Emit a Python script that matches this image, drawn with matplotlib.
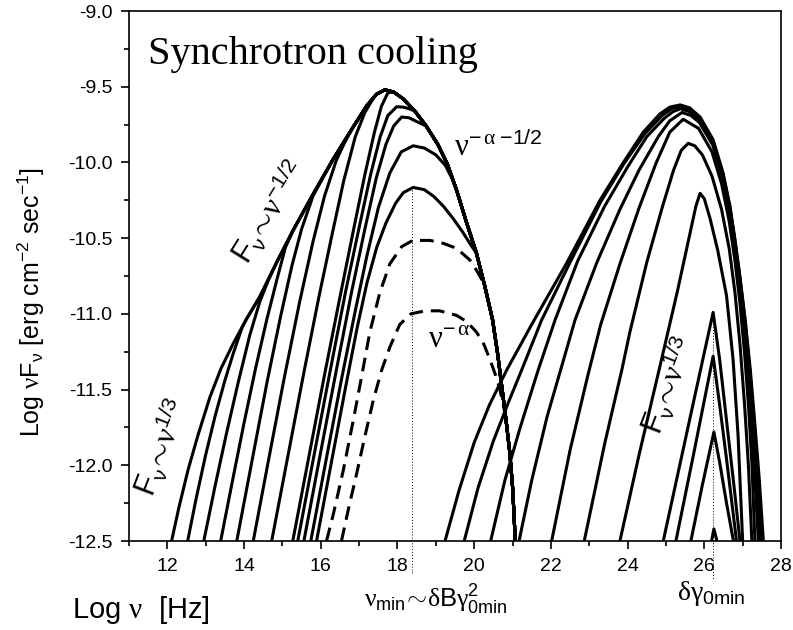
#!/usr/bin/env python3

import numpy as np
import matplotlib
matplotlib.use("Agg")
import matplotlib.pyplot as plt
from matplotlib.ticker import MultipleLocator, FormatStrFormatter

# ---- data (log nu, log nuFnu) ----
# shared envelope of the low-frequency hump
env_up_x = [13.72, 14.05, 14.41, 14.85, 15.28, 15.80, 16.32, 16.85, 17.20, 17.45, 17.67]
env_up_y = [-11.195, -11.04, -10.887, -10.66, -10.448, -10.21, -9.98, -9.764, -9.625, -9.55, -9.52]
env_dn_x = [17.67, 17.90, 18.15, 18.45, 18.75, 19.05, 19.30, 19.55, 19.78, 20.06,
            20.28, 20.48, 20.61, 20.72, 20.83, 20.93, 21.00, 21.04, 21.07]
env_dn_y = [-9.52, -9.535, -9.58, -9.66, -9.76, -9.88, -10.01, -10.19, -10.38, -10.60,
            -10.82, -11.04, -11.26, -11.48, -11.70, -11.92, -12.14, -12.33, -12.50]

# own part of each low-frequency curve, then where it joins the envelope
c1_x = [12.11, 12.30, 12.54, 12.80, 13.11, 13.40]
c1_y = [-12.5, -12.28, -12.03, -11.80, -11.55, -11.36]
c2_x = [12.53, 12.75, 13.0, 13.25, 13.5, 13.72, 13.95]
c2_y = [-12.5, -12.22, -11.93, -11.67, -11.44, -11.26, -11.09]
c3_x = [12.95, 13.25, 13.55, 13.85, 14.15, 14.41, 14.63]
c3_y = [-12.5, -12.13, -11.78, -11.45, -11.14, -10.92, -10.78]
c4_x = [13.39, 13.7, 14.0, 14.3, 14.6, 14.85, 15.08]
c4_y = [-12.5, -12.1, -11.72, -11.36, -11.03, -10.78, -10.56]
c5_x = [13.81, 14.2, 14.6, 14.95, 15.25, 15.5, 15.8]
c5_y = [-12.5, -11.98, -11.45, -11.02, -10.68, -10.44, -10.22]
c6_x = [14.24, 14.65, 15.05, 15.45, 15.8, 16.1, 16.4, 16.62]
c6_y = [-12.5, -11.95, -11.42, -10.92, -10.52, -10.22, -9.99, -9.87]
c7_x = [14.72, 15.15, 15.55, 15.95, 16.3, 16.6, 16.9, 17.15, 17.35]
c7_y = [-12.5, -11.93, -11.4, -10.89, -10.47, -10.12, -9.83, -9.67, -9.585]
c8_x = [15.27, 15.7, 16.1, 16.5, 16.85, 17.15, 17.4, 17.58, 17.75]
c8_y = [-12.5, -11.93, -11.4, -10.89, -10.45, -10.08, -9.8, -9.63, -9.54]
c9_x = [15.40, 15.85, 16.25, 16.65, 17.0, 17.3, 17.55, 17.75, 17.98, 18.15, 18.3]
c9_y = [-12.5, -11.9, -11.37, -10.85, -10.43, -10.08, -9.83, -9.69, -9.632, -9.635, -9.645]
c10_x = [15.56, 16.0, 16.4, 16.8, 17.15, 17.45, 17.7, 17.9, 18.11, 18.3, 18.5]
c10_y = [-12.5, -11.91, -11.38, -10.86, -10.44, -10.1, -9.88, -9.76, -9.70, -9.705, -9.73]
c11_x = [15.74, 16.15, 16.55, 16.9, 17.2, 17.5, 17.8, 18.1, 18.41, 18.7, 19.0, 19.25, 19.45]
c11_y = [-12.5, -11.95, -11.42, -10.98, -10.62, -10.3, -10.07, -9.93, -9.89, -9.905, -9.95, -10.02, -10.12]
c12_x = [15.89, 16.3, 16.65, 16.95, 17.2, 17.46, 17.7, 17.95, 18.15, 18.41, 18.7, 18.95,
         19.2, 19.45, 19.7, 19.9]
c12_y = [-12.5, -11.95, -11.48, -11.09, -10.8, -10.56, -10.4, -10.27, -10.2, -10.165, -10.18, -10.225,
         -10.29, -10.37, -10.46, -10.54]
dA_x = [16.15, 16.33, 16.59, 16.85, 17.06, 17.28, 17.54, 17.80, 18.11, 18.4, 18.85, 19.2,
        19.54, 19.89, 20.08, 20.2]
dA_y = [-12.5, -12.32, -12.03, -11.70, -11.42, -11.12, -10.86, -10.67, -10.556, -10.515, -10.515, -10.535,
        -10.567, -10.645, -10.72, -10.775]
dB_x = [16.54, 16.72, 16.94, 17.15, 17.37, 17.59, 17.80, 18.06, 18.35, 18.72, 19.1, 19.54,
        19.8, 20.06, 20.25, 20.41, 20.55, 20.66, 20.76]
dB_y = [-12.5, -12.29, -12.05, -11.81, -11.57, -11.37, -11.22, -11.07, -11.0, -10.98, -10.98, -11.01,
        -11.05, -11.12, -11.2, -11.3, -11.4, -11.49, -11.6]

# high-frequency hump
r1_x = [19.24, 19.6, 20.0, 20.4, 20.85, 21.5, 22.4, 23.28, 23.89, 24.41, 24.84, 25.1, 25.37, 25.62,
        25.89, 26.23, 26.49, 26.67, 26.80, 26.93, 27.07, 27.2, 27.32, 27.43, 27.54]
r1_y = [-12.5, -12.17, -11.85, -11.6, -11.37, -11.07, -10.67, -10.25, -10.0, -9.8, -9.68, -9.635, -9.62, -9.64,
        -9.70, -9.85, -10.07, -10.29, -10.51, -10.755, -11.05, -11.37, -11.73, -12.08, -12.5]
r2_x = [19.74, 20.1, 20.5, 20.9, 21.24, 21.76, 22.5, 23.3, 23.9, 24.45, 24.9, 25.15, 25.37, 25.62,
        25.89, 26.23, 26.49, 26.67, 26.8, 26.93, 27.07, 27.19, 27.31, 27.41, 27.50]
r2_y = [-12.5, -12.15, -11.84, -11.58, -11.37, -11.04, -10.66, -10.26, -10.01, -9.81, -9.69, -9.645, -9.63, -9.65,
        -9.71, -9.86, -10.08, -10.30, -10.52, -10.765, -11.06, -11.38, -11.76, -12.1, -12.5]
r3_x = [20.43, 20.8, 21.2, 21.67, 22.11, 22.7, 23.4, 24.0, 24.5, 24.95, 25.18, 25.38, 25.62, 25.88,
        26.23, 26.49, 26.67, 26.8, 26.93, 27.06, 27.18, 27.3, 27.38, 27.46]
r3_y = [-12.5, -12.1, -11.75, -11.37, -11.04, -10.65, -10.29, -10.03, -9.83, -9.71, -9.665, -9.645, -9.665, -9.725,
        -9.875, -10.095, -10.315, -10.54, -10.79, -11.08, -11.41, -11.8, -12.1, -12.5]
r4_x = [21.17, 21.5, 21.9, 22.3, 22.63, 23.2, 23.8, 24.3, 24.8, 25.1, 25.42, 25.65, 25.87, 26.22,
        26.48, 26.66, 26.8, 26.93, 27.05, 27.16, 27.27, 27.41]
r4_y = [-12.5, -12.1, -11.68, -11.33, -11.04, -10.66, -10.31, -10.05, -9.83, -9.725, -9.67, -9.69, -9.735, -9.885,
        -10.105, -10.335, -10.575, -10.835, -11.125, -11.45, -11.85, -12.5]
r5_x = [22.02, 22.5, 22.97, 23.3, 23.8, 24.3, 24.75, 25.1, 25.45, 25.85, 26.2, 26.45, 26.65, 26.8,
        26.93, 27.05, 27.15, 27.24, 27.32]
r5_y = [-12.5, -11.9, -11.4, -11.07, -10.67, -10.3, -10.0, -9.8, -9.715, -9.775, -9.93, -10.14, -10.39, -10.65,
        -10.93, -11.26, -11.6, -11.98, -12.5]
r6_x = [22.87, 23.4, 23.85, 24.06, 24.5, 24.9, 25.2, 25.4, 25.58, 25.75, 25.95, 26.2, 26.45, 26.65,
        26.8, 26.93, 27.05, 27.15, 27.24]
r6_y = [-12.5, -11.86, -11.37, -11.12, -10.66, -10.3, -10.05, -9.92, -9.874, -9.89, -9.95, -10.09, -10.31, -10.57,
        -10.86, -11.2, -11.6, -12.0, -12.5]
r7_x = [23.80, 24.3, 24.84, 25.3, 25.6, 25.78, 25.89, 26.0, 26.15, 26.35, 26.58, 26.75, 26.88, 27.0]
r7_y = [-12.5, -11.93, -11.35, -10.85, -10.5, -10.29, -10.204, -10.24, -10.37, -10.58, -10.88, -11.3, -11.8, -12.5]
s1_x = [24.93, 25.6, 26.23, 26.4, 26.6, 26.78, 26.93]
s1_y = [-12.5, -11.72, -10.99, -11.3, -11.75, -12.15, -12.5]
s2_x = [25.26, 25.75, 26.23, 26.4, 26.6, 26.84]
s2_y = [-12.5, -11.89, -11.28, -11.6, -12.0, -12.5]
s3_x = [25.65, 25.95, 26.25, 26.4, 26.58, 26.76]
s3_y = [-12.5, -12.13, -11.78, -11.98, -12.25, -12.5]
s4_x = [26.19, 26.25, 26.33]
s4_y = [-12.5, -12.42, -12.5]

nu_min = 18.39
nu_min_peak = -10.165
gamma_min = 26.23
gamma_min_peak = -10.99


def join(own_x, own_y, env_x, env_y):
    """own points first, then the envelope beyond the last own point"""
    xs = list(own_x) + [x for x in env_x if x > own_x[-1]]
    ys = list(own_y) + [y for x, y in zip(env_x, env_y) if x > own_x[-1]]
    return xs, ys


plt.rcParams['font.family'] = ['Liberation Sans', 'DejaVu Sans']
plt.rcParams['axes.unicode_minus'] = False
plt.rcParams['mathtext.fontset'] = 'custom'
plt.rcParams['mathtext.rm'] = 'Liberation Serif'
plt.rcParams['mathtext.it'] = 'Liberation Sans:italic'
plt.rcParams['mathtext.sf'] = 'Liberation Sans'
plt.rcParams['mathtext.bf'] = 'Liberation Sans:bold'

fig = plt.figure(figsize=(7.93, 6.3), dpi=100)
ax = fig.add_axes([129 / 793, 1 - 541 / 630, 652 / 793, 530 / 630])

env_x = env_up_x + env_dn_x[1:]
env_y = env_up_y + env_dn_y[1:]

lw = 2.2
style = dict(color='black', lw=lw, solid_joinstyle='round', solid_capstyle='butt')

for cx, cy in [(c1_x, c1_y), (c2_x, c2_y), (c3_x, c3_y), (c4_x, c4_y), (c5_x, c5_y),
               (c6_x, c6_y), (c7_x, c7_y), (c8_x, c8_y)]:
    xs, ys = join(cx, cy, env_x, env_y)
    ax.plot(xs, ys, **style)

for cx, cy in [(c9_x, c9_y), (c10_x, c10_y), (c11_x, c11_y), (c12_x, c12_y)]:
    xs, ys = join(cx, cy, env_dn_x, env_dn_y)
    ax.plot(xs, ys, **style)

for cx, cy in [(dA_x, dA_y), (dB_x, dB_y)]:
    xs, ys = join(cx, cy, env_dn_x, env_dn_y)
    ax.plot(xs, ys, color='black', lw=lw, dashes=(4.5, 2.6), dash_capstyle='butt')

for cx, cy in [(r1_x, r1_y), (r2_x, r2_y), (r3_x, r3_y), (r4_x, r4_y), (r5_x, r5_y),
               (r6_x, r6_y), (r7_x, r7_y), (s1_x, s1_y), (s2_x, s2_y), (s3_x, s3_y), (s4_x, s4_y)]:
    ax.plot(cx, cy, **style)

# dotted markers of nu_min and delta*gamma_0min
ax.plot([nu_min, nu_min], [nu_min_peak, -12.71], color='black', lw=0.7, ls=(0, (1, 2)), clip_on=False)
ax.plot([gamma_min, gamma_min], [gamma_min_peak, -12.76], color='black', lw=0.7, ls=(0, (1, 2)), clip_on=False)

ax.set_xlim(11, 28)
ax.set_ylim(-12.5, -9.0)
ax.xaxis.set_major_locator(MultipleLocator(2))
ax.xaxis.set_minor_locator(MultipleLocator(1))
ax.yaxis.set_major_locator(MultipleLocator(0.5))
ax.yaxis.set_minor_locator(MultipleLocator(0.25))
ax.yaxis.set_major_formatter(FormatStrFormatter('%.1f'))
ax.tick_params(which='both', direction='out', top=False, right=False, width=1.2, labelsize=14)
ax.tick_params(which='major', length=6)
ax.tick_params(which='minor', length=3.5)
ax.tick_params(axis='x', which='major', pad=6)
ax.tick_params(axis='y', which='major', pad=6)
for sp in ax.spines.values():
    sp.set_linewidth(1.2)

fig.text(148 / 793, 1 - 64 / 630, 'Synchrotron cooling', family='Liberation Serif',
         fontsize=29, ha='left', va='baseline')

fig.text(31 / 793, 1 - 302 / 630,
         r'Log $\mathrm{\nu}$F$_{\mathsf{\nu}}$ [erg cm$^{\mathsf{-2}}$ sec$^{\mathsf{-1}}$]',
         rotation=90, ha='center', va='center', fontsize=18)
fig.text(141 / 793, 1 - 610 / 630, r'Log $\mathrm{\nu}$  [Hz]', ha='center', va='center', fontsize=21)

ax.text(11.845, -11.883, r'$\mathsf{F}_{\mathsf{\nu}}\!\sim\!\mathrm{\nu}^{\mathsf{1/3}}$',
        rotation=69, ha='center', va='center', fontsize=22)
ax.text(14.65, -10.331, r'$\mathsf{F}_{\mathsf{\nu}}\!\sim\!\mathrm{\nu}^{\mathsf{-1/2}}$',
        rotation=58, ha='center', va='center', fontsize=22)
ax.text(25.07, -11.47, r'$\mathsf{F}_{\mathsf{\nu}}\!\sim\!\mathrm{\nu}^{\mathsf{1/3}}$',
        rotation=69, ha='center', va='center', fontsize=22)
ax.text(20.62, -9.898, r'$\mathrm{\nu}^{\mathsf{-}\,\mathrm{\alpha}\;\mathsf{-1/2}}$',
        ha='center', va='center', fontsize=22)
ax.text(19.355, -11.17, r'$\mathrm{\nu}^{\mathsf{-}\,\mathrm{\alpha}}$',
        ha='center', va='center', fontsize=22)

fig.text(436 / 793, 1 - 600 / 630,
         r'$\mathrm{\nu}_{\mathsf{min}}\!\sim\!\mathrm{\delta}\mathsf{B}\mathrm{\gamma}^{\mathsf{2}}_{\mathsf{0min}}$',
         ha='center', va='center', fontsize=18.5)
fig.text(711 / 793, 1 - 593 / 630, r'$\mathrm{\delta\gamma}_{\mathsf{0min}}$',
         ha='center', va='center', fontsize=20)

fig.savefig('out.png', dpi=100)
